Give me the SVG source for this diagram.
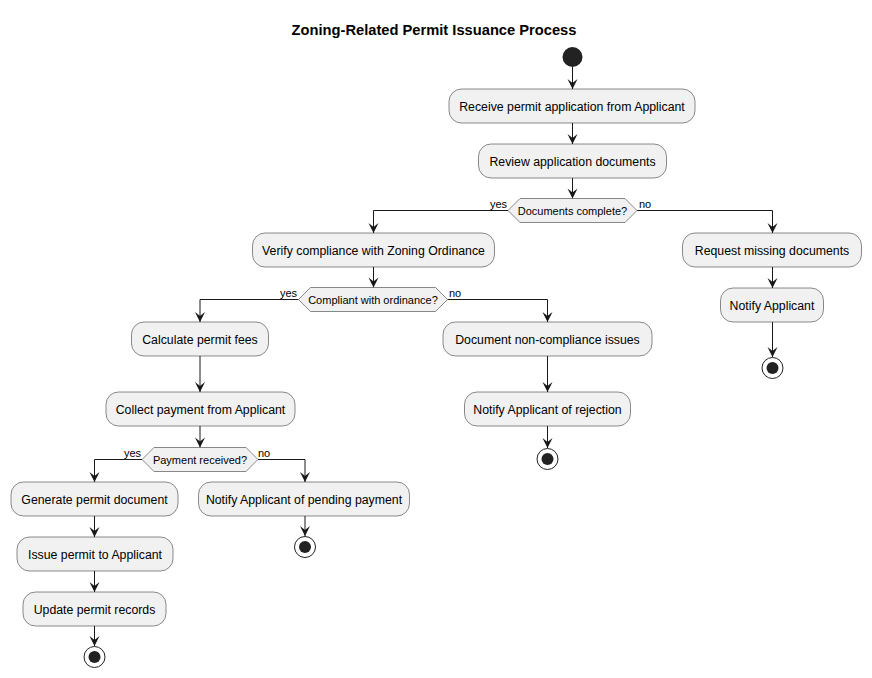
<svg xmlns="http://www.w3.org/2000/svg" width="872" height="678" viewBox="0 0 872 678">
<defs>
<style>
.act rect{fill:#F1F1F1;stroke:#181818;stroke-width:0.5}
.act text{font-family:"Liberation Sans",Arial,sans-serif;font-size:12.3px;fill:#000000;text-anchor:middle}
.dec polygon{fill:#F1F1F1;stroke:#181818;stroke-width:0.5}
.dec text{font-family:"Liberation Sans",Arial,sans-serif;font-size:11px;fill:#000000;text-anchor:middle}
.lbl{font-family:"Liberation Sans",Arial,sans-serif;font-size:11px;fill:#000000}
.edge{fill:none;stroke:#181818;stroke-width:1;marker-end:url(#ah)}
.start{fill:#222222}
.endo{fill:none;stroke:#222222;stroke-width:1}
.endi{fill:#222222}
</style>
<marker id="ah" viewBox="0 0 12 11" markerWidth="12" markerHeight="11" refX="11" refY="5.5" orient="auto" markerUnits="userSpaceOnUse">
<path d="M1,0.5 L11,5.5 L1,10.5 L5,5.5 Z" fill="#181818"/>
</marker>
</defs>
<rect width="872" height="678" fill="#FFFFFF"/>
<text x="434" y="35" font-family="'Liberation Sans',Arial,sans-serif" font-size="14.7" font-weight="bold" text-anchor="middle" fill="#000000">Zoning-Related Permit Issuance Process</text>

<g id="connectors">
<path class="edge" d="M572.5,67 V89"/>
<path class="edge" d="M572.5,123 V144"/>
<path class="edge" d="M572.5,178 V198.5"/>
<path class="edge" d="M508,210.5 H373.5 V233"/>
<path class="edge" d="M637,210.5 H772.5 V233"/>
<path class="edge" d="M772.5,267 V288"/>
<path class="edge" d="M772.5,322 V357"/>
<path class="edge" d="M373.5,267 V287.5"/>
<path class="edge" d="M298.5,299.5 H200 V322"/>
<path class="edge" d="M447.5,299.5 H547.5 V322"/>
<path class="edge" d="M547.5,356 V392"/>
<path class="edge" d="M547.5,426 V448"/>
<path class="edge" d="M200,356 V392"/>
<path class="edge" d="M200,426 V447.5"/>
<path class="edge" d="M142,459.5 H94.5 V482"/>
<path class="edge" d="M258,459.5 H305 V482"/>
<path class="edge" d="M305,516 V536"/>
<path class="edge" d="M94.5,516 V537"/>
<path class="edge" d="M94.5,571 V592"/>
<path class="edge" d="M94.5,626 V646"/>
</g>

<g id="labels">
<text class="lbl" x="507" y="208" text-anchor="end">yes</text>
<text class="lbl" x="639" y="208">no</text>
<text class="lbl" x="297" y="297" text-anchor="end">yes</text>
<text class="lbl" x="449" y="297">no</text>
<text class="lbl" x="141" y="457" text-anchor="end">yes</text>
<text class="lbl" x="258" y="457">no</text>
</g>

<g id="start"><circle class="start" cx="572.5" cy="57" r="10"/></g>

<g id="receive" class="act"><rect x="449" y="89" width="246" height="34" rx="12.5"/><text x="572" y="110.5">Receive permit application from Applicant</text></g>
<g id="review" class="act"><rect x="478.5" y="144" width="188" height="34" rx="12.5"/><text x="572.5" y="165.5">Review application documents</text></g>
<g id="docs-complete" class="dec"><polygon points="508,210.5 520,198.5 625,198.5 637,210.5 625,222.5 520,222.5"/><text x="572.5" y="214.5">Documents complete?</text></g>

<g id="verify" class="act"><rect x="252.5" y="233" width="242" height="34" rx="12.5"/><text x="373.5" y="254.5">Verify compliance with Zoning Ordinance</text></g>
<g id="request" class="act"><rect x="682.5" y="233" width="179" height="34" rx="12.5"/><text x="772" y="254.5">Request missing documents</text></g>
<g id="notify" class="act"><rect x="720.5" y="288" width="103" height="34" rx="12.5"/><text x="772" y="309.5">Notify Applicant</text></g>
<g id="end1"><circle class="endo" cx="772.5" cy="368" r="10.5"/><circle class="endi" cx="772.5" cy="368" r="6"/></g>

<g id="compliant" class="dec"><polygon points="298.5,299.5 310.5,287.5 435.5,287.5 447.5,299.5 435.5,311.5 310.5,311.5"/><text x="373" y="303.5">Compliant with ordinance?</text></g>
<g id="calc" class="act"><rect x="131.5" y="322" width="137" height="34" rx="12.5"/><text x="200" y="343.5">Calculate permit fees</text></g>
<g id="docnon" class="act"><rect x="443" y="322" width="209" height="34" rx="12.5"/><text x="547.5" y="343.5">Document non-compliance issues</text></g>
<g id="notify-rej" class="act"><rect x="464.5" y="392" width="166" height="34" rx="12.5"/><text x="547.5" y="413.5">Notify Applicant of rejection</text></g>
<g id="end2"><circle class="endo" cx="547.5" cy="459" r="10.5"/><circle class="endi" cx="547.5" cy="459" r="6"/></g>

<g id="collect" class="act"><rect x="106" y="392" width="189" height="34" rx="12.5"/><text x="200.5" y="413.5">Collect payment from Applicant</text></g>
<g id="payment" class="dec"><polygon points="142,459.5 154,447.5 246,447.5 258,459.5 246,471.5 154,471.5"/><text x="200" y="463.5">Payment received?</text></g>
<g id="generate" class="act"><rect x="11" y="482" width="167" height="34" rx="12.5"/><text x="94.5" y="503.5">Generate permit document</text></g>
<g id="notify-pend" class="act"><rect x="198.5" y="482" width="211" height="34" rx="12.5"/><text x="304" y="503.5">Notify Applicant of pending payment</text></g>
<g id="end3"><circle class="endo" cx="305" cy="547" r="10.5"/><circle class="endi" cx="305" cy="547" r="6"/></g>
<g id="issue" class="act"><rect x="17" y="537" width="156" height="34" rx="12.5"/><text x="95" y="558.5">Issue permit to Applicant</text></g>
<g id="update" class="act"><rect x="23" y="592" width="143" height="34" rx="12.5"/><text x="94.5" y="613.5">Update permit records</text></g>
<g id="end4"><circle class="endo" cx="94.5" cy="657" r="10.5"/><circle class="endi" cx="94.5" cy="657" r="6"/></g>
</svg>
